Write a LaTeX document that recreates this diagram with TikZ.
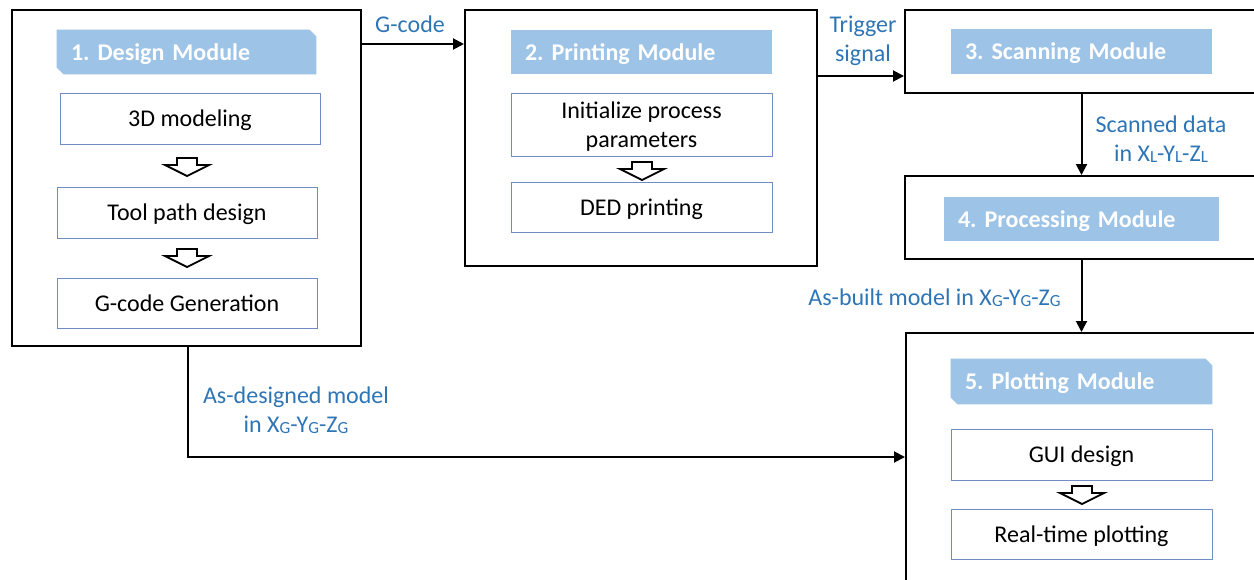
\documentclass[tikz,border=0pt]{standalone}
\usepackage{fontspec}
\setmainfont{Carlito}
\usetikzlibrary{arrows.meta,calc,backgrounds}
\definecolor{hdrblue}{HTML}{9DC3E6}
\definecolor{lblblue}{HTML}{2E75B6}
\definecolor{boxedge}{HTML}{6F8CC4}
\newcommand{\lsub}[1]{\raisebox{-0.5pt}{\fontsize{8.5}{10}\selectfont #1}}
\frenchspacing
\begin{document}
\begin{tikzpicture}[x=0.5pt,y=-0.5pt,
  font=\fontsize{12}{14.5}\selectfont,
  outer/.style={draw=black, line width=1pt, inner sep=0pt},
  hdr/.style={fill=hdrblue, text=white, font=\fontsize{12}{14.5}\selectfont\bfseries,
    align=left, inner xsep=7pt, inner ysep=0pt, text height=10pt, text depth=2pt},
  snipped/.style={hdr, fill=none},
  stepbox/.style={draw=boxedge, line width=0.5pt, fill=white, align=center, inner sep=0pt,
    text height=10pt, text depth=2pt},
  lbl/.style={text=lblblue, align=center, inner sep=0pt},
  arr/.style={draw=black, line width=1pt, -{Triangle[length=5.5pt,width=5.5pt]}},
  hollowdown/.pic={\draw[fill=white, line width=0.9pt, line join=miter]
     (-10,0) -- (10,0) -- (10,7) -- (22,7) -- (0,18) -- (-22,7) -- (-10,7) -- cycle;}
]
\clip (0,0) rectangle (1254,579);

% Module 1
\node[outer, minimum width=174.5pt, minimum height=168pt] (M1) at (186.5,178) {};
\node[snipped, minimum width=129.5pt, minimum height=22pt, text width=115.5pt] (H1) at (186.5,52) {1. Design Module};
\node[stepbox, minimum width=130pt, minimum height=25.5pt] (B1a) at (190,118.5) {3D modeling};
\node[stepbox, minimum width=130pt, minimum height=25.5pt] (B1b) at (187,212.5) {Tool path design};
\node[stepbox, minimum width=130pt, minimum height=25pt] (B1c) at (187,303) {G-code Generation};
\pic at (187,158) {hollowdown};
\pic at (187,249) {hollowdown};

% Module 2
\node[outer, minimum width=176pt, minimum height=128pt] (M2) at (641,138) {};
\node[hdr, minimum width=130.5pt, minimum height=22pt, text width=116.5pt] (H2) at (641.5,52) {2. Printing Module};
\node[stepbox, minimum width=130.5pt, minimum height=31.5pt, text height=24.5pt, text depth=2pt] (B2a) at (641.5,124.5) {Initialize process\\parameters};
\node[stepbox, minimum width=130.5pt, minimum height=25pt] (B2b) at (641.5,207) {DED printing};
\pic at (642,162) {hollowdown};

% Module 3
\node[outer, minimum width=179.5pt, minimum height=41.5pt] (M3) at (1084.5,51.5) {};
\node[hdr, minimum width=130.5pt, minimum height=22.5pt, text width=116.5pt] (H3) at (1081.5,51.5) {3. Scanning Module};

% Module 4
\node[outer, minimum width=179.5pt, minimum height=41.5pt] (M4) at (1084.5,217.5) {};
\node[hdr, minimum width=137.5pt, minimum height=22pt, text width=123.5pt] (H4) at (1081.5,219) {4. Processing Module};

% Module 5
\node[outer, minimum width=179pt, minimum height=128.5pt] (M5) at (1085,461.5) {};
\node[snipped, minimum width=130.5pt, minimum height=22.5pt, text width=116.5pt] (H5) at (1081.5,381.5) {5. Plotting Module};
\node[stepbox, minimum width=130.5pt, minimum height=25.5pt] (B5a) at (1081.5,454.5) {GUI design};
\node[stepbox, minimum width=130.5pt, minimum height=25pt] (B5b) at (1081.5,534) {Real-time plotting};
\pic at (1082,486) {hollowdown};

% snipped header backgrounds
\begin{scope}[on background layer]
\foreach \n in {H1,H5}
  \fill[hdrblue] (\n.north west) -- ([xshift=-3.5pt]\n.north east) -- ([yshift=-3.5pt]\n.north east)
     -- (\n.south east) -- ([xshift=3.5pt]\n.south west) -- ([yshift=3.5pt]\n.south west) -- cycle;
\end{scope}

% Connectors
\draw[arr] ([yshift=-17.5pt]M1.north east) -- ([yshift=-17.5pt]M2.north west);
\draw[arr] ([yshift=-33.5pt]M2.north east) -- ([yshift=-33.5pt]M3.north west);
\draw[arr] (H3.center |- M3.south) -- (H3.center |- M4.north);
\draw[arr] (H4.center |- M4.south) -- (H4.center |- M5.north);
\draw[arr] ([xshift=0.75pt]M1.south) |- ([yshift=-62.5pt]M5.north west);

% Labels
\node[lbl] (L1) at (410,24) {G-code};
\node[lbl] (L2) at (863,41) {Trigger\\signal};
\node[lbl] (L3) at (1161,139) {Scanned data\\in X\lsub{L}-Y\lsub{L}-Z\lsub{L}};
\node[lbl] (L4) at (934.5,298) {As-built model in X\lsub{G}-Y\lsub{G}-Z\lsub{G}};
\node[lbl] (L5) at (296,410) {As-designed model\\in X\lsub{G}-Y\lsub{G}-Z\lsub{G}};
\end{tikzpicture}
\end{document}
